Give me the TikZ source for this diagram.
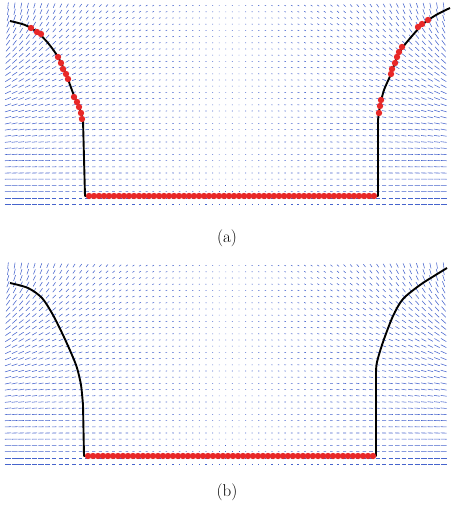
\documentclass[tikz,border=0pt]{standalone}
\usepackage{tikz}
\usetikzlibrary{calc}
\definecolor{azulcampo}{RGB}{70,100,205}
\definecolor{vermelho}{RGB}{232,40,40}

% campo vetorial de um painel: #1 = y do fundo do canal
\newcommand{\campovet}[1]{%
  \foreach \i in {0,...,66}{
    \foreach \j in {0,...,32}{
      \pgfmathsetmacro\px{8+6.6*\i}
      \pgfmathsetmacro\py{#1+8-6.2*\j}
      \pgfmathsetmacro\uu{(\px-227)/219}
      \pgfmathsetmacro\vv{max(0,min(1,(#1-\py)/192))}
      \pgfmathsetmacro\th{85*\vv*\vv*abs(\uu)}
      \pgfmathsetmacro\ll{0.5*(0.8+3.5*\uu*\uu+2*abs(\uu))}
      \pgfmathsetmacro\sg{\uu<0 ? -1 : 1}
      \pgfmathsetmacro\xa{\px-\ll*cos(\th)}
      \pgfmathsetmacro\xb{\px+\ll*cos(\th)}
      \pgfmathsetmacro\ya{\py-\sg*\ll*sin(\th)}
      \pgfmathsetmacro\yb{\py+\sg*\ll*sin(\th)}
      \draw[vetor] (\xa,\ya) -- (\xb,\yb);
    }}}

\begin{document}
\begin{tikzpicture}[x=1pt,y=-1pt,
  vetor/.style={azulcampo,line width=0.55pt},
  contorno/.style={black,line width=1.9pt,line join=round},
  ponto/.style={fill=vermelho,draw=none},
  rotulo/.style={font=\fontsize{17}{20}\selectfont,inner sep=0pt}]
\useasboundingbox (0,0) rectangle (453,510);

% painel (a)
\campovet{196}
\draw[contorno] plot[smooth] coordinates {(10,21) (25,25) (37,32) (48,43) (58,57) (66,74) (73,93) (79,107) (83,120)}
  -- (85,196) -- (378,196) -- (378,120)
  plot[smooth] coordinates {(378,120) (380,106) (384,90) (391,74) (397,57) (403,47) (412,36) (423,24) (436,15) (450,8)};
\foreach \p in {(31,28),(37,32),(41,34),(58,57),(61,63),(63,69),(66,74),(68,79),(74,97),(77,102),(79,107),(81,113),(82,119),
  (379,113),(380,106),(381,100),(391,74),(392,69),(395,63),(397,57),(399,52),(402,47),(418,27),(422,24),(428,20)}
  \fill[ponto] \p circle[radius=3.2pt];
\foreach \k in {0,...,57}
  \fill[ponto] (89+5*\k,196) circle[radius=3.2pt];
\node[rotulo] (la) at (227,238) {(a)};

% painel (b)
\campovet{456}
\draw[contorno] plot[smooth] coordinates {(10,283) (28,288) (42,298) (53,315) (63,335) (72,355) (77,368) (81,385) (83,405)}
  -- (84,456) -- (376,456) -- (376,372)
  plot[smooth] coordinates {(376,372) (377,362) (383,342) (393,316) (403,299) (420,285) (434,276) (447,268)};
\foreach \k in {0,...,57}
  \fill[ponto] (88+5*\k,456) circle[radius=3.2pt];
\node[rotulo] (lb) at (227,492) {(b)};
\end{tikzpicture}
\end{document}
